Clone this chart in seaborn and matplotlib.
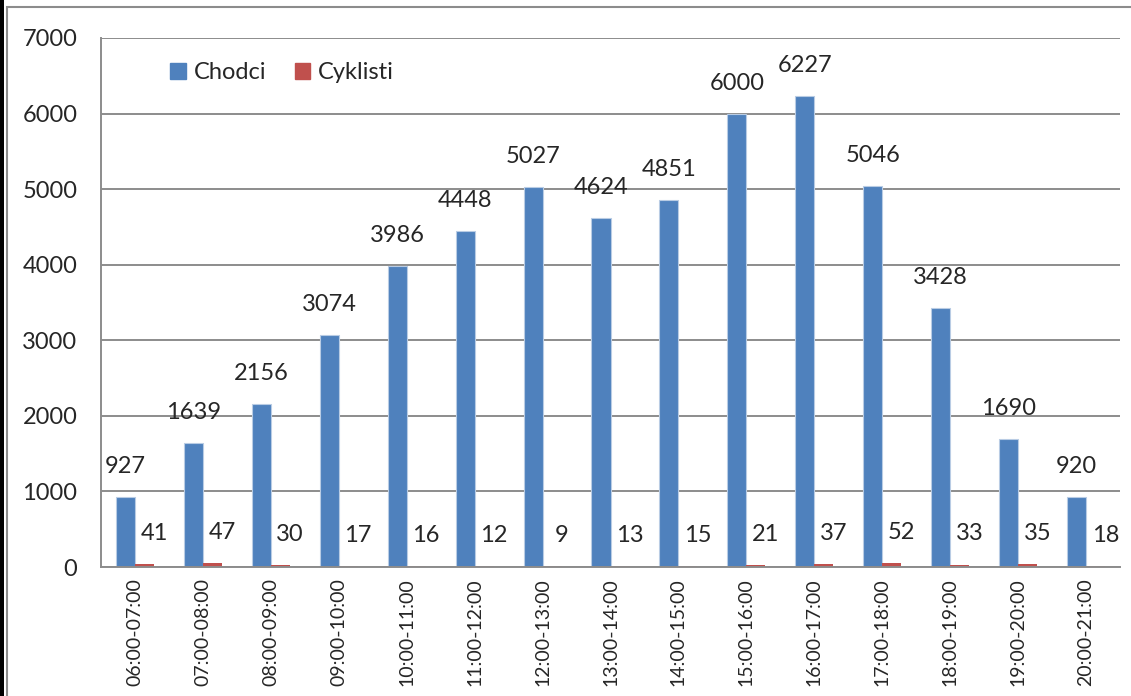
# plot.py
import seaborn as sns
import matplotlib.pyplot as plt
import matplotlib.patches as mpatches
import pandas as pd
import numpy as np

# data
intervals = ['06:00-07:00', '07:00-08:00', '08:00-09:00', '09:00-10:00', '10:00-11:00',
             '11:00-12:00', '12:00-13:00', '13:00-14:00', '14:00-15:00', '15:00-16:00',
             '16:00-17:00', '17:00-18:00', '18:00-19:00', '19:00-20:00', '20:00-21:00']
chodci = [927, 1639, 2156, 3074, 3986, 4448, 5027, 4624, 4851, 6000, 6227, 5046, 3428, 1690, 920]
cyklisti = [41, 47, 30, 17, 16, 12, 9, 13, 15, 21, 37, 52, 33, 35, 18]
series = ['Chodci', 'Cyklisti']
colors = ['#4F81BD', '#C0504D']

df = pd.DataFrame({
    'Interval': intervals * 2,
    'Count': chodci + cyklisti,
    'Series': ['Chodci'] * len(intervals) + ['Cyklisti'] * len(intervals),
})

sns.set_style('white')
plt.rcParams['font.family'] = ['Lato', 'DejaVu Sans']

fig = plt.figure(figsize=(11.31, 6.96), dpi=100)
ax = fig.add_axes([101 / 1131, 1 - 567 / 696, (1120 - 101) / 1131, (567 - 38) / 696])

# outer chart border
fig.patches.append(mpatches.Rectangle((7 / 1131, -0.05), 1.2, 1 - 7 / 696 + 0.05,
                                      transform=fig.transFigure, fill=False,
                                      edgecolor='#8c8c8c', linewidth=1.5))
fig.patches.append(mpatches.Rectangle((0, 0), 3.5 / 1131, 1, transform=fig.transFigure,
                                      facecolor='black', edgecolor='none'))

sns.barplot(data=df, x='Interval', y='Count', hue='Series', order=intervals,
            hue_order=series, palette=colors, saturation=1, width=0.56, gap=0, ax=ax,
            linewidth=0, errorbar=None, legend=False)
# light rim on the blue bars, as in the original
for bar in ax.containers[0]:
    bar.set_edgecolor('#b9cce4')
    bar.set_linewidth(0.8)

ax.set_ylim(0, 7000)
ax.set_xlim(-0.5, len(intervals) - 0.5)
ax.set_yticks(np.arange(0, 7001, 1000))
ax.yaxis.grid(True, color='#8c8c8c', linewidth=1.4)
ax.set_axisbelow(True)
for side in ['top', 'right']:
    ax.spines[side].set_visible(False)
for side in ['left', 'bottom']:
    ax.spines[side].set_color('#8c8c8c')
    ax.spines[side].set_linewidth(1.4)

ax.set_xlabel('')
ax.set_ylabel('')
ax.tick_params(axis='y', length=6, width=1.4, color='#8c8c8c', pad=11, labelsize=17)
ax.set_xticks(np.arange(len(intervals)))
ax.set_xticklabels(intervals, rotation=90, fontsize=14)
ax.tick_params(axis='x', which='major', length=0, pad=8)
ax.set_xticks(np.arange(len(intervals) + 1) - 0.5, minor=True)
ax.tick_params(axis='x', which='minor', length=5, width=1.4, color='#8c8c8c')

# value labels
bw = 0.28
for i in range(len(intervals)):
    ax.annotate(str(chodci[i]), (i - bw / 2, chodci[i]), xytext=(0, 22),
                textcoords='offset points', ha='center', va='center', fontsize=17)
    ax.annotate(str(cyklisti[i]), (i + bw / 2, cyklisti[i]), xytext=(7, 22),
                textcoords='offset points', ha='center', va='center', fontsize=17)

handles = [mpatches.Patch(color=c, label=s) for c, s in zip(colors, series)]
ax.legend(handles=handles, loc='center left', bbox_to_anchor=(0.068, 0.934), ncol=2,
          frameon=False, fontsize=17, handlelength=0.65, handleheight=0.65,
          handletextpad=0.35, columnspacing=1.2, borderpad=0, borderaxespad=0)

fig.savefig('out.png', dpi=100)
